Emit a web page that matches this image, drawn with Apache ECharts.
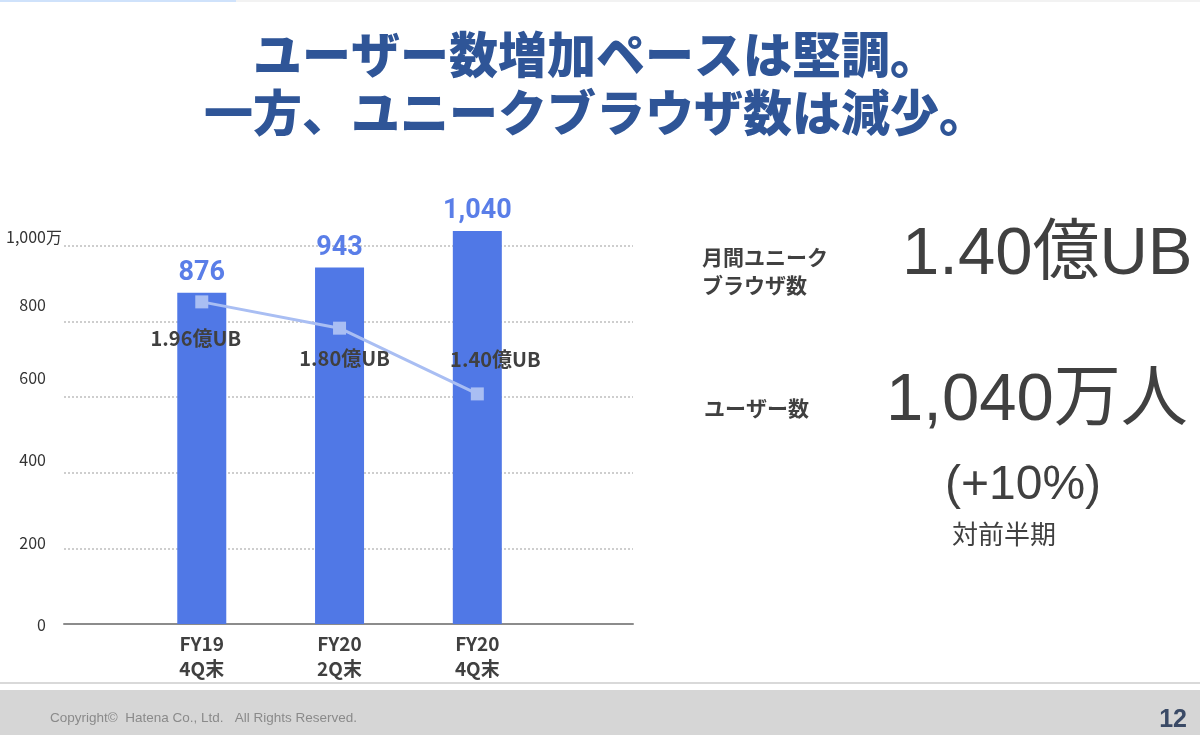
<!DOCTYPE html>
<html>
<head>
<meta charset="utf-8">
<script src="https://cdn.jsdelivr.net/npm/echarts@6/dist/echarts.min.js"></script>
<style>
html,body{margin:0;padding:0;background:#fff;}
#c{width:1200px;height:735px;}
</style>
</head>
<body>
<div id="c"></div>
<script>
// ---- data ----
const categories = ['FY19\n4Q末', 'FY20\n2Q末', 'FY20\n4Q末'];
const users = [876, 943, 1040];            // 万人
const uniqueBrowsers = [1.96, 1.80, 1.40]; // 億UB
const yTicks = [0, 200, 400, 600, 800, 1000];
const yTickLabels = ['0', '200', '400', '600', '800', '1,000万'];

// ---- styles ----
const yLabelLift = {0: -1, 200: 5, 400: 13, 600: 19, 800: 17, 1000: 9};
const lineLabelOffsets = [[-6, 37], [5, 30], [18, -35]];
const positions = categories.map((c, i) => i + 1);

const rich = {};
yTicks.forEach((v) => {
  const lift = yLabelLift[v];
  const padR = v === 1000 ? 0 : 16;
  rich['s' + v] = {
    fontSize: 16, color: '#333', fontFamily: 'Noto Sans CJK JP',
    padding: [lift < 0 ? -2 * lift : 0, padR, lift > 0 ? 2 * lift : 0, 0]
  };
});

const chart = echarts.init(document.getElementById('c'));
const option = {
  backgroundColor: '#fff',
  animation: false,
  title: {
    text: 'ユーザー数増加ペースは堅調。\n一方、ユニークブラウザ数は減少。',
    left: 591, top: 20, textAlign: 'center',
    textStyle: {
      fontFamily: 'Noto Sans CJK JP', fontWeight: 900, fontSize: 49,
      lineHeight: 58, color: '#2F5597'
    }
  },
  grid: {left: 64, right: 567, top: 246, bottom: 111, containLabel: false},
  xAxis: {
    type: 'value', min: 0, max: 4.13, interval: 1,
    axisLine: {show: true, lineStyle: {color: '#8c8c8c', width: 2}},
    axisTick: {show: false},
    splitLine: {show: false},
    axisLabel: {
      margin: 7, fontSize: 19, fontWeight: 'bold', lineHeight: 25,
      color: '#404040', fontFamily: 'Noto Sans CJK JP',
      showMaxLabel: false,
      formatter: v => {
        const i = positions.indexOf(v);
        return i >= 0 ? categories[i] : '';
      }
    }
  },
  yAxis: [{
    type: 'value', min: 0, max: 1000, interval: 200,
    axisLine: {show: false}, axisTick: {show: false},
    splitLine: {lineStyle: {color: '#bfbfbf', type: [2, 2], width: 1.5}},
    axisLabel: {
      margin: 2, align: 'right',
      formatter: v => '{s' + v + '|' + yTickLabels[yTicks.indexOf(v)] + '}',
      rich: rich
    }
  }, {
    type: 'value', min: 0, max: 2.3, show: false,
    splitLine: {show: false}
  }],
  series: [{
    type: 'bar',
    clip: false,
    data: users.map((v, i) => [positions[i], v]),
    barWidth: 49,
    itemStyle: {color: '#5078E6'},
    label: {
      show: true, position: 'top', distance: 6,
      formatter: p => p.value[1].toLocaleString('en-US'),
      fontFamily: 'Roboto', fontWeight: 'bold', fontSize: 27, color: '#5A7EE8'
    },
    z: 2
  }, {
    type: 'line',
    yAxisIndex: 1,
    data: uniqueBrowsers.map((v, i) => ({
      value: [positions[i], v],
      label: {offset: lineLabelOffsets[i]}
    })),
    symbol: 'rect', symbolSize: 13,
    itemStyle: {color: '#A9BEF3'},
    lineStyle: {color: '#A9BEF3', width: 3},
    label: {
      show: true, position: 'inside',
      formatter: p => p.value[1].toFixed(2) + '億UB',
      fontFamily: 'Noto Sans CJK JP', fontWeight: 'bold', fontSize: 20,
      color: '#404040'
    },
    z: 5
  }],
  graphic: [
    {type: 'rect', shape: {x: 0, y: 0, width: 1200, height: 2}, style: {fill: '#f2f2f2'}, silent: true},
    {type: 'rect', shape: {x: 0, y: 0, width: 236, height: 2}, style: {fill: '#cfe2fb'}, silent: true},
    {type: 'rect', shape: {x: 0, y: 682, width: 1200, height: 2}, style: {fill: '#d9d9d9'}, silent: true},
    {type: 'rect', shape: {x: 0, y: 690, width: 1200, height: 45}, style: {fill: '#d6d6d6'}, silent: true},
    {type: 'text', left: 50, top: 711, style: {
      text: 'Copyright©  Hatena Co., Ltd.   All Rights Reserved.',
      font: '13.5px "Liberation Sans"', fill: '#8a8a8a'}},
    {type: 'text', right: 13, top: 708, style: {
      text: '12', font: 'bold 25px "Liberation Sans"', fill: '#3A4A66'}},
    {type: 'text', left: 702, top: 243, style: {
      text: '月間ユニーク\nブラウザ数', font: 'bold 21px "Noto Sans CJK JP"',
      lineHeight: 28, fill: '#404040'}},
    {type: 'text', left: 704, top: 398, style: {
      text: 'ユーザー数', font: 'bold 21px "Noto Sans CJK JP"', fill: '#404040'}},
    {type: 'text', left: 902, top: 222, style: {
      text: '1.40億UB', font: '67px "Liberation Sans", "Noto Sans CJK JP"', fill: '#404040'}},
    {type: 'text', left: 886, top: 368, style: {
      text: '1,040万人', font: '67px "Liberation Sans", "Noto Sans CJK JP"', fill: '#404040'}},
    {type: 'text', left: 945, top: 462, style: {
      text: '(+10%)', font: '48px "Liberation Sans"', fill: '#404040'}},
    {type: 'text', left: 952, top: 521, style: {
      text: '対前半期', font: '26px "Noto Sans CJK JP"', fill: '#404040'}}
  ]
};
chart.setOption(option);
</script>
</body>
</html>
